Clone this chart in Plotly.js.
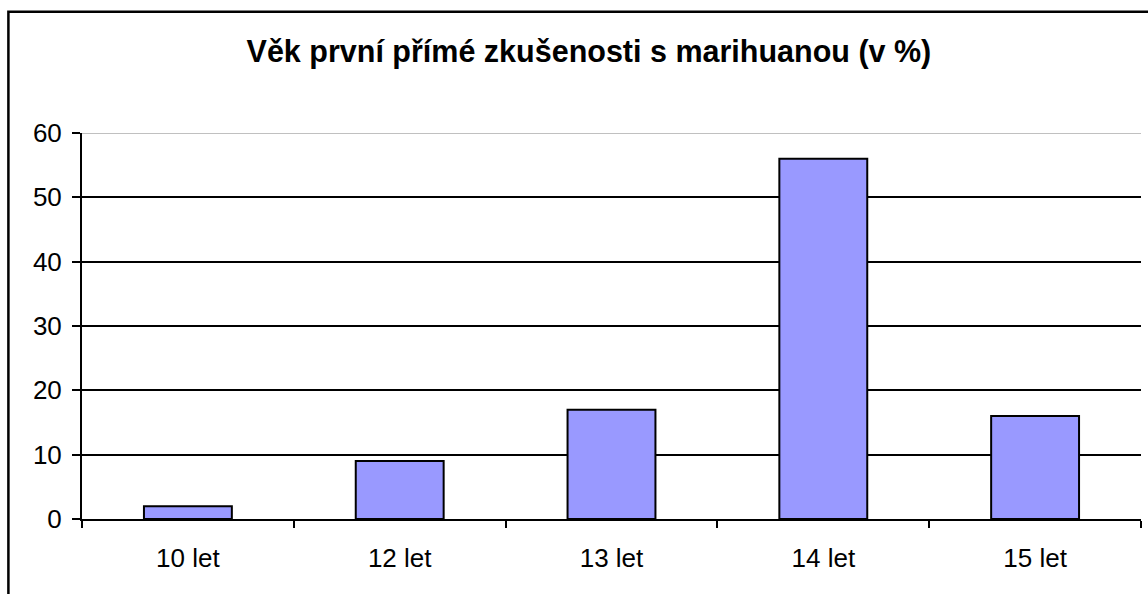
<!DOCTYPE html>
<html>
<head>
<meta charset="utf-8">
<script src="https://cdn.plot.ly/plotly-3.0.1.min.js"></script>
<style>
html,body{margin:0;padding:0;background:#fff;}
#chart{width:1148px;height:594px;}
</style>
</head>
<body>
<div id="chart"></div>
<script>
const categories = ["10 let", "12 let", "13 let", "14 let", "15 let"];
const values = [2, 9, 17, 56, 16];
const yTicks = [0, 10, 20, 30, 40, 50, 60];
const titleText = "Věk první přímé zkušenosti s marihuanou (v %)";

const trace = {
  type: "bar",
  x: categories,
  y: values,
  marker: { color: "#9999ff", line: { color: "#000000", width: 2 } },
  hoverinfo: "x+y"
};

const layout = {
  width: 1148,
  height: 594,
  margin: { l: 82, r: 7, t: 133, b: 75 },
  paper_bgcolor: "#ffffff",
  plot_bgcolor: "#ffffff",
  showlegend: false,
  bargap: 0.585,
  font: { family: "Liberation Sans, Arial, sans-serif", color: "#000000", size: 26 },
  title: {
    text: "<b>" + titleText + "</b>",
    font: { family: "Liberation Sans, Arial, sans-serif", size: 30.5, color: "#000000" },
    x: 0.513, xref: "container", xanchor: "center",
    y: 0.913, yref: "container", yanchor: "middle"
  },
  xaxis: {
    type: "category",
    tickson: "boundaries",
    ticks: "outside",
    ticklen: 7,
    tickwidth: 2,
    tickcolor: "#000000",
    showline: true,
    linecolor: "#000000",
    linewidth: 2,
    showgrid: false,
    tickfont: { size: 26 },
    ticklabelstandoff: 15
  },
  yaxis: {
    range: [0, 60],
    tickvals: yTicks,
    ticks: "outside",
    ticklen: 8,
    tickwidth: 2,
    tickcolor: "#000000",
    showline: true,
    linecolor: "#000000",
    linewidth: 2,
    showgrid: true,
    gridcolor: "#000000",
    gridwidth: 2,
    zeroline: false,
    tickfont: { size: 26 },
    ticklabelstandoff: 5
  },
  shapes: [
    { type: "line", xref: "paper", yref: "y", x0: 0, x1: 1, y0: 60, y1: 60,
      line: { color: "#c0c0c0", width: 2 }, layer: "above" },
    { type: "rect", xref: "paper", yref: "paper", x0: -0.0695, x1: 1.2, y0: -0.5, y1: 1.314,
      line: { color: "#000000", width: 2.5 }, fillcolor: "rgba(0,0,0,0)", layer: "below" }
  ]
};

Plotly.newPlot("chart", [trace], layout, { displayModeBar: false, staticPlot: true });
</script>
</body>
</html>
